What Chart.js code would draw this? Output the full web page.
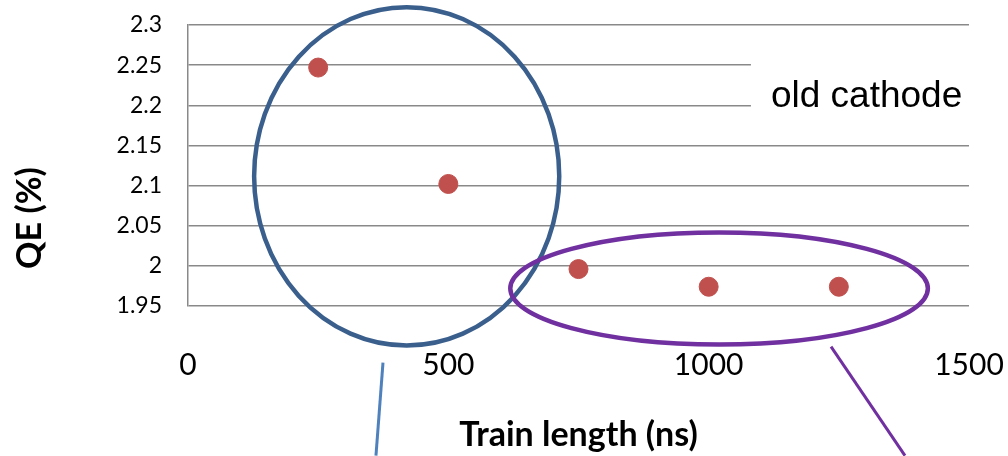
<!DOCTYPE html>
<html>
<head>
<meta charset="utf-8">
<script src="https://cdn.jsdelivr.net/npm/chart.js@4"></script>
<style>
  body { margin: 0; background: #fff; }
  canvas { display: block; }
</style>
</head>
<body>
<canvas id="myChart" width="1008" height="456"></canvas>
<script>
// measured points
const trainLength = [250, 500, 750, 1000, 1250];
const qe = [2.247, 2.102, 1.996, 1.974, 1.974];

const xTicks = [0, 500, 1000, 1500];
const yTicks = [1.95, 2, 2.05, 2.1, 2.15, 2.2, 2.25, 2.3];

// hand drawn marks, in data units: [cx, cy, rx, ry]
const blueRing = [420, 2.1115, 293, 0.2107];
const purpleRing = [1020, 1.9718, 401, 0.0698];
// pointer lines: [x1, y1, x2, y2]
const blueLine = [374.5, 1.8795, 361, 1.7635];
const purpleLine = [1235, 1.8995, 1377, 1.7636];
const noteText = "old cathode";
const notePos = [1119.6, 2.198];

const gridGray = "#898989";

const overlay = {
  id: "overlay",
  afterDraw(chart) {
    const ctx = chart.ctx;
    const x = chart.scales.x;
    const y = chart.scales.y;
    const ca = chart.chartArea;

    // note box hides the grid behind it
    ctx.save();
    ctx.fillStyle = "#fff";
    const bx = x.getPixelForValue(notePos[0]) - 20;
    ctx.fillRect(bx, y.getPixelForValue(2.285), ca.right - bx + 5, y.getPixelForValue(2.165) - y.getPixelForValue(2.285));
    ctx.fillStyle = "#000";
    ctx.font = "37px 'Liberation Sans', Arial, sans-serif";
    ctx.textBaseline = "alphabetic";
    ctx.fillText(noteText, x.getPixelForValue(notePos[0]), y.getPixelForValue(notePos[1]));

    function ring(r, color) {
      const cx = x.getPixelForValue(r[0]);
      const cy = y.getPixelForValue(r[1]);
      const rx = x.getPixelForValue(r[0] + r[2]) - cx;
      const ry = cy - y.getPixelForValue(r[1] + r[3]);
      ctx.beginPath();
      ctx.ellipse(cx, cy, rx, ry, 0, 0, Math.PI * 2);
      ctx.strokeStyle = color;
      ctx.lineWidth = 4.5;
      ctx.stroke();
    }
    function line(l, color) {
      ctx.beginPath();
      ctx.moveTo(x.getPixelForValue(l[0]), y.getPixelForValue(l[1]));
      ctx.lineTo(x.getPixelForValue(l[2]), y.getPixelForValue(l[3]));
      ctx.strokeStyle = color;
      ctx.lineWidth = 3;
      ctx.stroke();
    }
    ring(blueRing, "#3A5F8D");
    ring(purpleRing, "#7030A0");
    line(blueLine, "#4F81BD");
    line(purpleLine, "#7030A0");

    // axis titles
    ctx.fillStyle = "#000";
    ctx.font = "bold 34px Lato, sans-serif";
    ctx.textAlign = "center";
    ctx.fillText("Train length (ns)", (ca.left + ca.right) / 2, 446);
    ctx.translate(30, 218);
    ctx.rotate(-Math.PI / 2);
    ctx.textBaseline = "middle";
    ctx.fillText("QE (%)", 0, 0);
    ctx.restore();
  }
};

new Chart(document.getElementById("myChart"), {
  type: "scatter",
  data: {
    datasets: [{
      data: trainLength.map((t, i) => ({ x: t, y: qe[i] })),
      backgroundColor: "#C0504D",
      borderColor: "#C0504D",
      pointRadius: 9.5,
      pointHoverRadius: 9.5
    }]
  },
  options: {
    responsive: false,
    animation: false,
    layout: { padding: { top: 25, right: 39, left: 0, bottom: 0 } },
    plugins: { legend: { display: false }, tooltip: { enabled: false } },
    scales: {
      x: {
        type: "linear",
        min: 0,
        max: 1500,
        afterBuildTicks: s => { s.ticks = xTicks.map(v => ({ value: v })); },
        afterFit: s => { s.height = 150; s.paddingLeft = 0; s.paddingRight = 0; },
        grid: { display: false, drawTicks: false },
        border: { display: false },
        ticks: {
          padding: 41,
          maxRotation: 0,
          color: "#000",
          font: { family: "Lato, sans-serif", size: 30 },
          callback: v => String(v)
        }
      },
      y: {
        min: 1.95,
        max: 2.3,
        afterBuildTicks: s => { s.ticks = yTicks.map(v => ({ value: v })); },
        afterFit: s => { s.width = 188; s.paddingTop = 0; s.paddingBottom = 0; },
        grid: { color: gridGray, lineWidth: 1.5, drawTicks: false },
        border: { color: gridGray, width: 1.5 },
        ticks: {
          padding: 26,
          color: "#000",
          font: { family: "Lato, sans-serif", size: 23 },
          callback: v => String(Number(v.toFixed(2)))
        }
      }
    }
  },
  plugins: [overlay]
});
</script>
</body>
</html>
